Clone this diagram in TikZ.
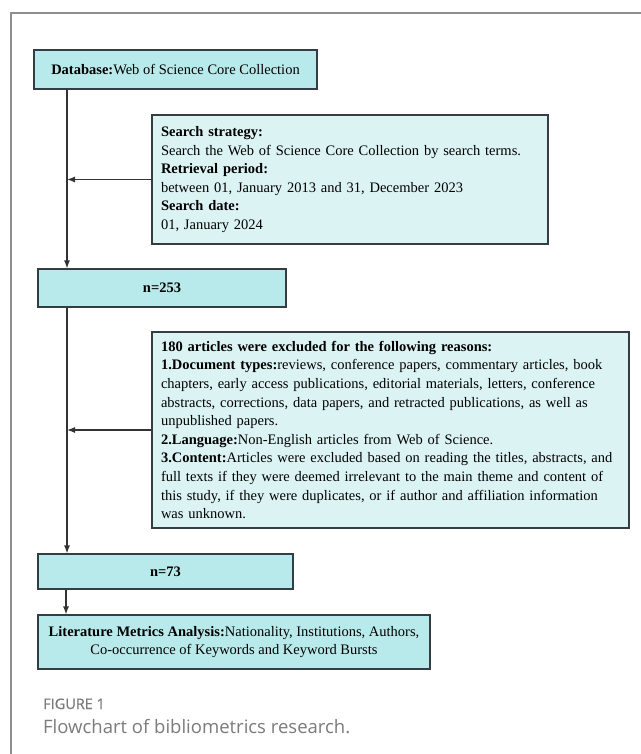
\documentclass[tikz,border=0pt]{standalone}
\usepackage{fontspec}
\setmainfont{Liberation Serif}
\newfontfamily\capfont{Open Sans}
\newfontfamily\capbold[FakeBold=0.8]{Open Sans}
\usetikzlibrary{arrows.meta}
\definecolor{boxdark}{HTML}{B9EAEB}
\definecolor{boxlight}{HTML}{DCF3F4}
\definecolor{edgec}{HTML}{363D42}
\definecolor{linec}{HTML}{333333}
\definecolor{framec}{HTML}{8E8E8E}
\definecolor{capc}{HTML}{7B7B7B}
\begin{document}
\begin{tikzpicture}[x=1bp,y=-1bp,
  flowbox/.style={draw=edgec, line width=1.1bp, inner sep=0pt,
    font=\fontsize{14.5bp}{18.6bp}\selectfont},
  darkbox/.style={flowbox, fill=boxdark, align=center},
  lightbox/.style={flowbox, fill=boxlight, align=left, inner xsep=9bp},
  arr/.style={draw=linec, line width=1.2bp, -{Latex[length=8bp,width=6bp]}},
  captxt/.style={text=capc, inner sep=0pt, anchor=base west}
]
\useasboundingbox (0,0) rectangle (641,754);
\fill[white] (0,0) rectangle (641,754);
\draw[framec, line width=1.6bp] (11,760) -- (11,13) -- (645,13);

\coordinate (trunk) at (67,0);

\node[darkbox, minimum width=283bp, minimum height=39bp] (db) at (175.5,69.5)
  {\textbf{Database:}Web of Science Core Collection};

\node[lightbox, text width=378bp, minimum height=129bp] (search) at (350,179.5)
  {\textbf{Search strategy:}\\
   Search the Web of Science Core Collection by search terms.\\
   \textbf{Retrieval period:}\\
   between 01, January 2013 and 31, December 2023\\
   \textbf{Search date:}\\
   01, January 2024};

\node[darkbox, minimum width=248bp, minimum height=38bp] (n1) at (162,288)
  {\textbf{n=253}};

\node[lightbox, text width=459bp, minimum height=196bp] (excl) at (390.5,430)
  {\textbf{180 articles were excluded for the following reasons:}\\
   \textbf{1.Document types:}reviews, conference papers, commentary articles, book\\
   chapters, early access publications, editorial materials, letters, conference\\
   abstracts, corrections, data papers, and retracted publications, as well as\\
   unpublished papers.\\
   \textbf{2.Language:}Non-English articles from Web of Science.\\
   \textbf{3.Content:}Articles were excluded based on reading the titles, abstracts, and\\
   full texts if they were deemed irrelevant to the main theme and content of\\
   this study, if they were duplicates, or if author and affiliation information\\
   was unknown.};

\node[darkbox, minimum width=255bp, minimum height=35bp] (n2) at (165.5,571.5)
  {\textbf{n=73}};

\node[darkbox, minimum width=392bp, minimum height=54bp] (lit) at (234,642)
  {\textbf{Literature Metrics Analysis:}Nationality, Institutions, Authors,\\
   Co-occurrence of Keywords and Keyword Bursts};

\draw[arr] (db.south -| trunk) -- (n1.north -| trunk);
\draw[arr] (search.west) -- (search.west -| trunk);
\draw[arr] (n1.south -| trunk) -- (n2.north -| trunk);
\draw[arr] (excl.west) -- (excl.west -| trunk);
\draw[arr] ([xshift=-1bp]n2.south -| trunk) -- ([xshift=-1bp]lit.north -| trunk);

\node[captxt, font=\capbold\fontsize{14.5bp}{16bp}\selectfont] (figlab) at (43,709) {FIGURE 1};
\node[captxt, font=\capfont\fontsize{18.5bp}{22bp}\selectfont] (figcap) at (43,733) {Flowchart of bibliometrics research.};
\end{tikzpicture}
\end{document}
